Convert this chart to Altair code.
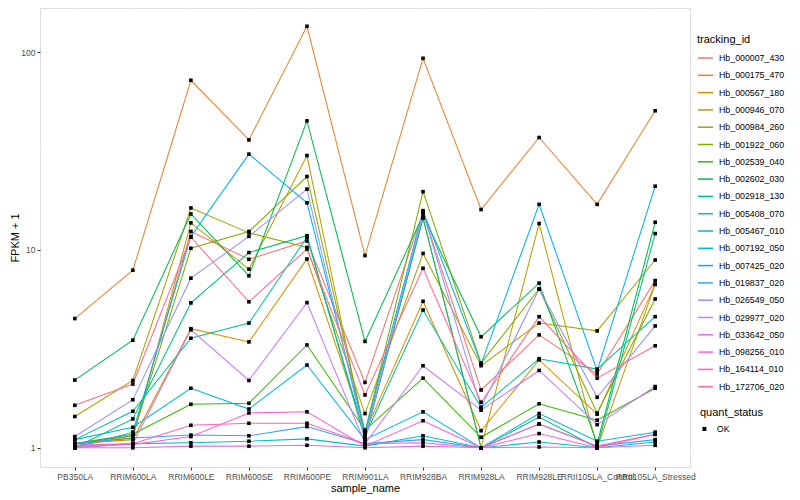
import altair as alt
import pandas as pd

samples = ["PB350LA", "RRIM600LA", "RRIM600LE", "RRIM600SE", "RRIM600PE", "RRIM901LA",
           "RRIM928BA", "RRIM928LA", "RRIM928LE", "RRII105LA_Control", "RRII105LA_Stressed"]

tracking_ids = ["Hb_000007_430", "Hb_000175_470", "Hb_000567_180", "Hb_000946_070",
                "Hb_000984_260", "Hb_001922_060", "Hb_002539_040", "Hb_002602_030",
                "Hb_002918_130", "Hb_005408_070", "Hb_005467_010", "Hb_007192_050",
                "Hb_007425_020", "Hb_019837_020", "Hb_026549_050", "Hb_029977_020",
                "Hb_033642_050", "Hb_098256_010", "Hb_164114_010", "Hb_172706_020"]

colors = ["#F8766D", "#EA8331", "#D89000", "#C09B00", "#A3A500", "#7CAE00", "#39B600",
          "#00BB4E", "#00BF7D", "#00C1A3", "#00BFC4", "#00BAE0", "#00B0F6", "#35A2FF",
          "#9590FF", "#C77CFF", "#E76BF3", "#FA62DB", "#FF62BC", "#FF6C90"]

hb_000007_430 = [1.02, 1.15, 12.4, 8.97, 11.1, 2.14, 15.5, 1.96, 3.72, 2.36, 7.0]
hb_000175_470 = [4.5, 7.9, 72, 36, 135, 9.37, 93, 16, 37, 17, 50.5]
hb_000567_180 = [1.05, 1.1, 4.0, 3.43, 9.0, 1.2, 5.5, 1.22, 2.78, 1.48, 6.7]
hb_000946_070 = [1.05, 1.12, 13.7, 8.0, 30, 1.15, 14.5, 1.0, 13.6, 1.0, 6.7]
hb_000984_260 = [1.44, 2.19, 16.3, 12.2, 10.3, 1.49, 9.6, 2.6, 4.27, 3.9, 8.9]
hb_001922_060 = [1.05, 1.15, 10.2, 12.4, 23.5, 1.2, 19.7, 2.68, 6.35, 1.5, 5.65]
hb_002539_040 = [1.05, 1.17, 1.66, 1.68, 3.31, 1.23, 2.25, 1.13, 1.67, 1.38, 2.0]
hb_002602_030 = [2.2, 3.5, 15.2, 7.4, 44.9, 3.45, 15.0, 3.64, 6.8, 1.05, 13.8]
hb_002918_130 = [1.0, 1.4, 5.4, 9.7, 11.8, 1.1, 14.5, 1.0, 1.43, 1.0, 12.1]
hb_005408_070 = [1.1, 1.53, 3.58, 4.27, 11.6, 1.15, 4.97, 1.6, 2.82, 2.5, 4.6]
hb_005467_010 = [1.0, 1.05, 1.06, 1.08, 1.11, 1.02, 1.15, 1.0, 1.07, 1.0, 1.07]
hb_007192_050 = [1.1, 1.27, 2.0, 1.57, 2.62, 1.1, 1.52, 1.0, 1.49, 1.08, 1.2]
hb_007425_020 = [1.0, 1.2, 11.7, 30.5, 17.3, 1.2, 15.8, 2.65, 17.0, 2.45, 21.0]
hb_019837_020 = [1.05, 1.12, 1.16, 1.15, 1.28, 1.05, 1.1, 1.0, 1.32, 1.02, 1.1]
hb_026549_050 = [1.14, 1.75, 7.2, 11.7, 20.3, 1.1, 15.5, 1.6, 6.35, 1.8, 4.13]
hb_029977_020 = [1.0, 1.05, 3.95, 2.19, 5.42, 1.05, 2.6, 1.55, 2.46, 1.31, 2.04]
hb_033642_050 = [1.0, 1.0, 1.02, 1.02, 1.03, 1.0, 1.02, 1.0, 1.01, 1.0, 1.03]
hb_098256_010 = [1.02, 1.04, 1.14, 1.5, 1.52, 1.02, 1.37, 1.0, 1.18, 1.0, 1.17]
hb_164114_010 = [1.03, 1.05, 1.3, 1.33, 1.33, 1.05, 1.06, 1.0, 1.32, 1.02, 1.17]
hb_172706_020 = [1.64, 2.1, 11.6, 5.47, 10.1, 1.85, 8.08, 1.7, 4.6, 2.25, 3.28]

series = [hb_000007_430, hb_000175_470, hb_000567_180, hb_000946_070, hb_000984_260,
          hb_001922_060, hb_002539_040, hb_002602_030, hb_002918_130, hb_005408_070,
          hb_005467_010, hb_007192_050, hb_007425_020, hb_019837_020, hb_026549_050,
          hb_029977_020, hb_033642_050, hb_098256_010, hb_164114_010, hb_172706_020]

minor_breaks = [3.1623, 31.623]
major_breaks = [1, 10, 100]

rows = []
for tid, vals in zip(tracking_ids, series):
    for s, v in zip(samples, vals):
        rows.append({"tracking_id": tid, "sample_name": s, "fpkm1": v, "quant_status": "OK"})
df = pd.DataFrame(rows)
minor_df = pd.DataFrame({"fpkm1": minor_breaks})

FONT = "Liberation Sans"

yscale = alt.Scale(type="log", domain=[0.8, 167], nice=False)
xscale = alt.Scale(type="point", padding=0.6, domain=samples)

x_enc = alt.X("sample_name:N", scale=xscale, sort=samples, title="sample_name",
              axis=alt.Axis(labelAngle=0, labelOverlap=False, grid=True, gridColor="white",
                            gridWidth=1.1, tickColor="#333333", tickSize=3, domain=False,
                            labelFontSize=8.5, labelColor="#4D4D4D", labelPadding=2,
                            titleFontSize=11, titleColor="black", titlePadding=2,
                            titleFontWeight="normal", labelFont=FONT, titleFont=FONT))
y_enc = alt.Y("fpkm1:Q", scale=yscale, title="FPKM + 1",
              axis=alt.Axis(values=major_breaks, format="d", grid=True, gridColor="white",
                            gridWidth=1.1, tickColor="#333333", tickSize=3, domain=False,
                            labelFontSize=8.5, labelColor="#4D4D4D", labelPadding=2,
                            titleFontSize=11, titleColor="black", titleX=-20,
                            titleBaseline="bottom",
                            titleFontWeight="normal", labelFont=FONT, titleFont=FONT))

minor = alt.Chart(minor_df).mark_rule(color="white", strokeWidth=0.55).encode(
    y=alt.Y("fpkm1:Q", scale=yscale, title="FPKM + 1")
)

lines = alt.Chart(df).mark_line(strokeWidth=1.05).encode(
    x=x_enc,
    y=y_enc,
    color=alt.Color("tracking_id:N", scale=alt.Scale(domain=tracking_ids, range=colors),
                    legend=alt.Legend(title="tracking_id", orient="none", legendX=657,
                                      legendY=26, symbolType="stroke", symbolSize=225,
                                      symbolStrokeWidth=1.5, rowPadding=3.3,
                                      titlePadding=4.5, labelOffset=5, labelFontSize=8.8,
                                      titleFontSize=11, titleFontWeight="normal",
                                      titleColor="black", labelColor="black",
                                      labelFont=FONT, titleFont=FONT, labelLimit=200)),
    detail="tracking_id:N",
)

points = alt.Chart(df).mark_point(filled=True, color="black", size=13, opacity=1).encode(
    x=alt.X("sample_name:N", scale=xscale, sort=samples),
    y=alt.Y("fpkm1:Q", scale=yscale),
    shape=alt.Shape("quant_status:N", scale=alt.Scale(domain=["OK"], range=["square"]),
                    legend=alt.Legend(title="quant_status", orient="none", legendX=660,
                                      legendY=399, symbolSize=16, symbolFillColor="black",
                                      symbolStrokeColor="black", titlePadding=6.5,
                                      labelOffset=8, labelFontSize=8.8, titleFontSize=11,
                                      titleFontWeight="normal", titleColor="black",
                                      labelColor="black", labelFont=FONT, titleFont=FONT)),
)

chart = alt.layer(minor, lines, points).properties(
    width=650, height=459,
    autosize=alt.AutoSizeParams(type="none"),
    padding={"left": 32, "top": 0, "right": 100, "bottom": 30},
).configure_view(fill="#EBEBEB", stroke=None).configure(font=FONT)

chart.save("out.html", embed_options={"renderer": "svg", "actions": False})
